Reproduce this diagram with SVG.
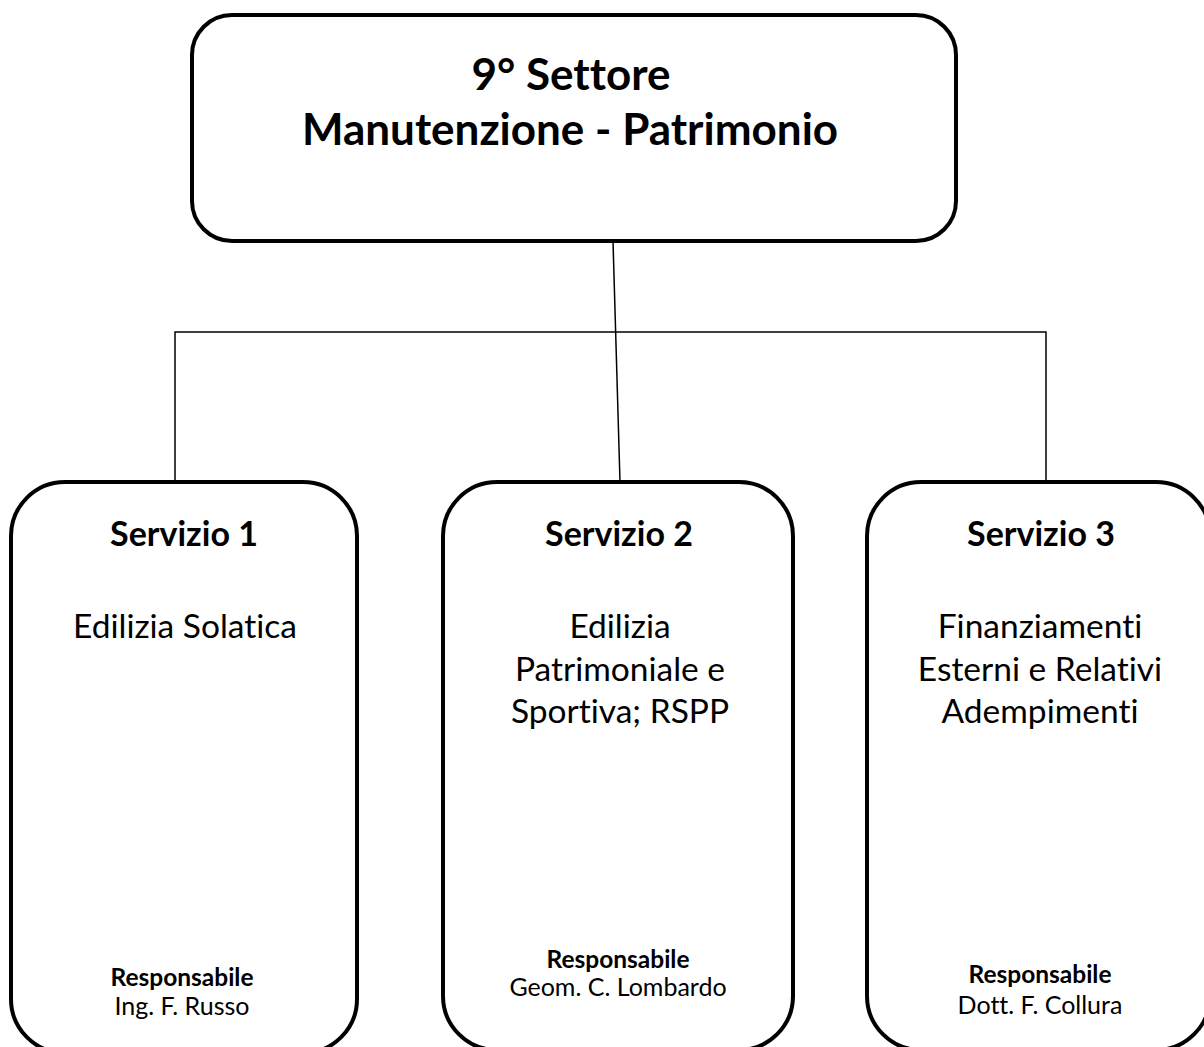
<svg xmlns="http://www.w3.org/2000/svg" width="1204" height="1047" viewBox="0 0 1204 1047">
<style>
.box{fill:#fff;stroke:#000;stroke-width:4}
.con{stroke:#000;stroke-width:1.5;fill:none}
text{font-family:Lato,"Open Sans","Liberation Sans",sans-serif;fill:#000;text-anchor:middle;font-variant-ligatures:none;font-feature-settings:"liga" 0,"clig" 0}
.title{font-size:44px;font-weight:bold}
.head{font-size:34px;font-weight:bold}
.body{font-size:33.5px}
.resp{font-size:24.5px;font-weight:bold}
.name{font-size:25px}
</style>
<rect width="1204" height="1047" fill="#fff"/>
<g id="connectors">
<line class="con" x1="613" y1="241" x2="620" y2="482"/>
<polyline class="con" points="175,482 175,332 1046,332 1046,482"/>
</g>
<g id="settore">
<rect class="box" x="192" y="15" width="764" height="226" rx="40"/>
<text class="title" x="571" y="90">9° Settore</text>
<text class="title" x="570" y="145">Manutenzione - Patrimonio</text>
</g>
<g id="servizio1">
<rect class="box" x="11" y="482" width="346" height="571" rx="54"/>
<text class="head" x="184" y="546">Servizio 1</text>
<text class="body" x="185" y="638">Edilizia Solatica</text>
<text class="resp" x="182" y="986">Responsabile</text>
<text class="name" x="182" y="1015">Ing. F. Russo</text>
</g>
<g id="servizio2">
<rect class="box" x="443" y="482" width="350" height="568" rx="54"/>
<text class="head" x="619" y="546">Servizio 2</text>
<text class="body" x="620" y="638">Edilizia</text>
<text class="body" x="620" y="681">Patrimoniale e</text>
<text class="body" x="620" y="723">Sportiva; RSPP</text>
<text class="resp" x="618" y="968">Responsabile</text>
<text class="name" x="618" y="996">Geom. C. Lombardo</text>
</g>
<g id="servizio3">
<rect class="box" x="867" y="482" width="343" height="568" rx="54"/>
<text class="head" x="1041" y="546">Servizio 3</text>
<text class="body" x="1040" y="638">Finanziamenti</text>
<text class="body" x="1040" y="681">Esterni e Relativi</text>
<text class="body" x="1040" y="723">Adempimenti</text>
<text class="resp" x="1040" y="983">Responsabile</text>
<text class="name" x="1040" y="1014">Dott. F. Collura</text>
</g>
</svg>
